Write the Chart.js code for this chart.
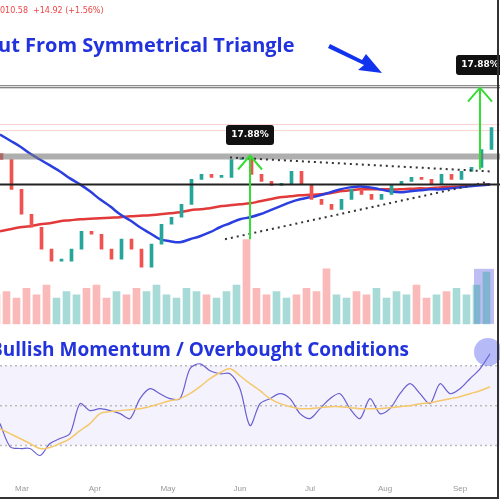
<!DOCTYPE html><html><head><script src="https://cdn.jsdelivr.net/npm/chart.js@4"></script>
<style>body{margin:0;background:#fff}</style></head><body>
<canvas id="c" width="500" height="500"></canvas>
<script>
const closes=[185,170,157.5,151,140,134,134,140,149,147.5,140,135,145,140,131,142.5,152.5,156,162.5,175,177.5,176,176,185,186,177.5,174,172,172.5,179,172.5,165,162.5,160,165,170,167.5,165,167.5,172.5,174,176,175,172.5,177.5,175,179,181,190,201];
const maBlue=[197.5,194.5,191.5,188,185,182,179,175.5,172.5,169,165,161.5,157.5,154.5,151,148,145,144,143.5,145,146.5,148.5,151,153,155,156,157.5,159.5,161.5,163.5,165,166,167,168.5,170,171,171.5,171,170,169,168.5,169,169.5,170,170,170.5,171,171.5,172,172.5];
const maRed=[149,150,151,151.5,152.5,153,154,154.5,155,155.25,155.5,155.75,156,156.5,156.75,157,157.5,158,158.5,159.5,160,160.5,161.5,162,162.5,163,164,165,166,166.5,167,167.25,167.5,168,169,169.5,170,170,170,170,170,170.25,170.5,170.5,171,171.25,171.5,172,172.25,172.5];
const volume=[9,10,8,11,9,12,8,10,9,11,12,8,10,9,11,10,12,9,8,11,10,9,8,10,12,26,11,9,10,8,9,11,10,17,9,8,10,9,11,8,10,9,12,8,9,10,11,9,12,16];
const rsi=[41,29.5,28.5,28.5,25,31,33.5,36,51,47.5,48.5,47.5,46,43.5,53.5,58.5,56,53.5,53.5,68.5,71,67.5,66,66,58.5,40,51,53.5,56,53.5,46,43.5,48.5,53.5,56,48.5,43.5,53.5,46,48.5,56,61,56,51,61,56,58.5,63.5,68.5,76];
const rsiMa=[38.5,36,33.5,31,28.5,29,31,33.5,37.5,41,46,47,47.5,48,48.5,49.5,51,52.5,53.5,56,59.5,63.5,66.5,68.5,65,61,57.5,53.5,51,49.5,48.5,48.5,49,49.5,49.5,49,48.5,48.5,48.5,49,49.5,50,51,51.5,52.5,53.5,54.5,56,57.5,59.5];
const monthLabels=["Mar","Apr","May","Jun","Jul","Aug","Sep"];
const monthPos=[2.2,9.5,16.8,24,31,38.5,46];
const levels=[221.5,186.5,172.5];
const pct="17.88%";

const opens=closes.map((c,i)=>i?closes[i-1]:c+3);
const up=closes.map((c,i)=>c>=opens[i]);
const pts=a=>a.map((v,i)=>({x:i,y:v}));
const ann={id:'ann',
beforeDatasetsDraw(ch){const c=ch.ctx,x=ch.scales.x,p=ch.scales.yp,r=ch.scales.yr,v=ch.scales.yv;
 c.save();
 c.fillStyle='rgba(120,110,230,0.09)';c.fillRect(0,r.getPixelForValue(70),500,r.getPixelForValue(30)-r.getPixelForValue(70));
 c.setLineDash([2,3]);c.strokeStyle='#bbb';c.lineWidth=1.5;
 [70,50,30].forEach(l=>{const y=r.getPixelForValue(l);c.beginPath();c.moveTo(0,y);c.lineTo(500,y);c.stroke();});
 c.setLineDash([]);
 c.fillStyle='rgba(110,110,230,0.45)';c.fillRect(x.getPixelForValue(47.4),v.getPixelForValue(17),x.getPixelForValue(49.4)-x.getPixelForValue(47.4),v.getPixelForValue(0)-v.getPixelForValue(17));
 c.strokeStyle='rgba(240,120,120,0.35)';c.lineWidth=1;
 [202.5,199.5].forEach(l=>{const y=p.getPixelForValue(l);c.beginPath();c.moveTo(0,y);c.lineTo(500,y);c.stroke();});
 c.restore();},
afterDatasetsDraw(ch){const c=ch.ctx,x=ch.scales.x,p=ch.scales.yp,r=ch.scales.yr;
 const X=v=>x.getPixelForValue(v),Y=v=>p.getPixelForValue(v);
 c.save();
 c.strokeStyle='#666';c.lineWidth=3;c.beginPath();c.moveTo(0,Y(levels[0]));c.lineTo(500,Y(levels[0]));c.stroke();
 c.strokeStyle='#fff';c.lineWidth=1;c.beginPath();c.moveTo(0,Y(levels[0]));c.lineTo(500,Y(levels[0]));c.stroke();
 c.strokeStyle='rgba(120,120,120,0.6)';c.lineWidth=6;c.beginPath();c.moveTo(0,Y(levels[1]));c.lineTo(500,Y(levels[1]));c.stroke();
 c.strokeStyle='#222';c.lineWidth=2;c.beginPath();c.moveTo(0,Y(levels[2]));c.lineTo(500,Y(levels[2]));c.stroke();
 c.setLineDash([2,4]);c.strokeStyle='#333';c.lineWidth=2;
 c.beginPath();c.moveTo(X(23),Y(186));c.lineTo(X(49),Y(179));c.stroke();
 c.beginPath();c.moveTo(X(22.5),Y(145));c.lineTo(X(48.5),Y(173.5));c.stroke();
 c.setLineDash([]);
 c.strokeStyle='#33dd33';c.lineWidth=2;
 [[25,145,187],[48,180,221]].forEach(([a,b,t])=>{c.beginPath();c.moveTo(X(a),Y(b));c.lineTo(X(a),Y(t));c.moveTo(X(a)-12,Y(t)+14);c.lineTo(X(a),Y(t));c.lineTo(X(a)+12,Y(t)+14);c.stroke();});
 c.font='bold 9px "DejaVu Sans"';c.textAlign='center';c.textBaseline='middle';
 [[25,135],[48,65]].forEach(([a,py])=>{c.fillStyle='#111';c.beginPath();c.roundRect(X(a)-24,py-10,48,20,3);c.fill();c.fillStyle='#fff';c.fillText(pct,X(a),py);});
 c.textAlign='left';c.textBaseline='alphabetic';
 c.fillStyle='#ee4444';c.font='8px "DejaVu Sans"';c.fillText("010.58  +14.92 (+1.56%)",0,13);
 c.fillStyle='#2233dd';c.font='bold 20px "Open Sans"';c.fillText("ut From Symmetrical Triangle",-2,52);
 c.font='bold 19px "Open Sans"';c.fillText("Bullish Momentum / Overbought Conditions",-10,356);
 c.fillStyle='#1133ee';c.beginPath();c.moveTo(330,44);c.lineTo(362,60);c.lineTo(366,54);c.lineTo(382,73);c.lineTo(358,70);c.lineTo(364,65);c.lineTo(328,48);c.closePath();c.fill();
 c.fillStyle='rgba(110,120,240,0.5)';c.beginPath();c.arc(488,352,14,0,Math.PI*2);c.fill();
 c.strokeStyle='#333';c.lineWidth=2;c.beginPath();c.moveTo(498,0);c.lineTo(498,498);c.lineTo(0,498);c.stroke();
 c.restore();}};
new Chart(document.getElementById('c'),{
 data:{datasets:[
  {type:'bar',yAxisID:'yv',data:pts(volume),backgroundColor:up.map(u=>u?'rgba(38,166,154,0.4)':'rgba(239,83,80,0.4)'),barThickness:7},
  {type:'bar',yAxisID:'yp',data:closes.map((c,i)=>({x:i,y:[opens[i],c]})),backgroundColor:up.map(u=>u?'#26a69a':'#ef5350'),barThickness:3,minBarLength:2},
  {type:'line',yAxisID:'yp',data:pts(maBlue),borderColor:'#2b3fe0',borderWidth:2.5,pointRadius:0,tension:0.4},
  {type:'line',yAxisID:'yp',data:pts(maRed),borderColor:'#e23a3a',borderWidth:2.5,pointRadius:0,tension:0.4},
  {type:'line',yAxisID:'yr',data:pts(rsiMa),borderColor:'#f5c96b',borderWidth:1.5,pointRadius:0,tension:0.4},
  {type:'line',yAxisID:'yr',data:pts(rsi),borderColor:'#6a5fd0',borderWidth:1.2,pointRadius:0,tension:0.3}
 ]},
 options:{responsive:false,animation:false,layout:{padding:0},
  plugins:{legend:{display:false},tooltip:{enabled:false}},
  scales:{
   x:{type:'linear',offset:false,min:0,max:50,grid:{display:false,drawTicks:false},border:{display:false},
    afterBuildTicks:a=>{a.ticks=monthPos.map(v=>({value:v}));},
    ticks:{autoSkip:false,maxRotation:0,color:'#999',font:{size:8},padding:6,callback:(v)=>monthLabels[monthPos.indexOf(v)]}},
   yp:{display:false,min:25,max:265},
   yv:{display:false,min:-47.7,max:100},
   yr:{display:false,min:13.5,max:253.5}
  }},
 plugins:[ann]});
</script></body></html>
